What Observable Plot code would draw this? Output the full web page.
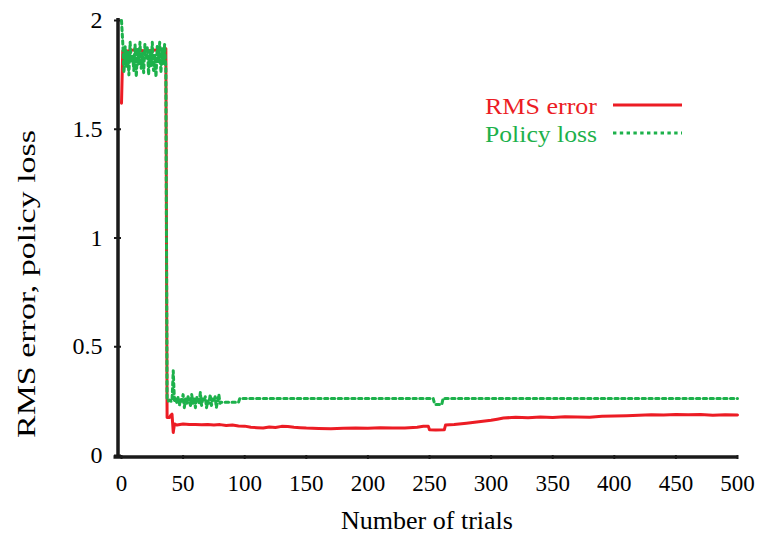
<!DOCTYPE html>
<html><head><meta charset="utf-8">
<script src="https://cdn.jsdelivr.net/npm/d3@7"></script>
<script src="https://cdn.jsdelivr.net/npm/@observablehq/plot@0.6"></script>
<style>body{margin:0;background:#fff;}</style>
</head><body><div id="chart"></div>
<script>
const seriesNames = ["RMS error", "Policy loss"];
const xLabel = "Number of trials";
const yLabel = "RMS error, policy loss";
const xTicks = [0, 50, 100, 150, 200, 250, 300, 350, 400, 450, 500];
const yTicks = [0, 0.5, 1, 1.5, 2];
const yTickLabels = ["0", "0.5", "1", "1.5", "2"];

const rmsTrials = [0, 1, 5, 10, 20, 30, 36, 37, 39, 40, 41, 42, 43, 45, 50, 55, 60, 65, 70, 75, 80, 85, 90, 95, 100, 105, 110, 115, 120, 125, 130, 135, 140, 145, 150, 160, 170, 180, 190, 200, 210, 220, 230, 240, 245, 249, 250, 255, 262, 263, 270, 280, 290, 300, 305, 310, 320, 330, 340, 350, 360, 370, 380, 390, 400, 410, 420, 430, 440, 450, 460, 470, 480, 490, 500];
const rmsValues = [1.62, 1.86, 1.86, 1.865, 1.86, 1.865, 1.87, 0.175, 0.175, 0.185, 0.19, 0.106, 0.145, 0.14, 0.145, 0.142, 0.143, 0.141, 0.142, 0.14, 0.142, 0.138, 0.14, 0.136, 0.135, 0.13, 0.128, 0.126, 0.131, 0.129, 0.134, 0.133, 0.13, 0.128, 0.126, 0.124, 0.123, 0.125, 0.127, 0.125, 0.128, 0.126, 0.127, 0.13, 0.134, 0.135, 0.118, 0.117, 0.118, 0.14, 0.142, 0.148, 0.155, 0.162, 0.167, 0.172, 0.176, 0.174, 0.177, 0.175, 0.178, 0.177, 0.176, 0.18, 0.182, 0.183, 0.185, 0.187, 0.186, 0.188, 0.187, 0.189, 0.185, 0.187, 0.186];

const policyTrials = [0, 1, 2, 3, 4, 5, 6, 7, 8, 9, 10, 11, 12, 13, 14, 15, 16, 17, 18, 19, 20, 21, 22, 23, 24, 25, 26, 27, 28, 29, 30, 31, 32, 33, 34, 35, 36, 37, 38, 39, 40, 41, 42, 43, 44, 45, 46, 47, 48, 49, 50, 51, 52, 53, 54, 55, 56, 57, 58, 59, 60, 61, 62, 63, 64, 65, 66, 67, 68, 69, 70, 71, 72, 73, 74, 75, 76, 77, 78, 79, 80, 81, 95, 96, 253, 254, 255, 260, 261, 500];
const policyValues = [2.0, 1.9, 1.76, 1.88, 1.79, 1.86, 1.75, 1.9, 1.81, 1.84, 1.77, 1.89, 1.74, 1.87, 1.8, 1.9, 1.78, 1.85, 1.76, 1.89, 1.82, 1.88, 1.75, 1.86, 1.79, 1.9, 1.77, 1.84, 1.74, 1.88, 1.81, 1.9, 1.76, 1.87, 1.8, 1.89, 1.78, 0.26, 0.25, 0.255, 0.25, 0.25, 0.39, 0.25, 0.26, 0.24, 0.27, 0.23, 0.26, 0.25, 0.28, 0.22, 0.26, 0.24, 0.27, 0.25, 0.23, 0.28, 0.24, 0.26, 0.22, 0.27, 0.25, 0.24, 0.29, 0.23, 0.26, 0.25, 0.27, 0.22, 0.25, 0.24, 0.28, 0.23, 0.26, 0.25, 0.27, 0.22, 0.25, 0.28, 0.24, 0.245, 0.245, 0.262, 0.262, 0.24, 0.235, 0.235, 0.262, 0.262];

const RED = "#ec1c24", GREEN = "#1db14b", DASH = "3.4,3.4";
const rms = rmsTrials.map((t, i) => ({trial: t, value: rmsValues[i]}));
const policy = policyTrials.map((t, i) => ({trial: t, value: policyValues[i]}));
const FONT = "'Liberation Serif', 'Times New Roman', serif";

const chart = Plot.plot({
  width: 762, height: 535,
  marginLeft: 121, marginRight: 25, marginTop: 20, marginBottom: 80,
  style: {fontFamily: FONT, fontSize: "23px", background: "#fff", color: "#000", overflow: "visible"},
  x: {domain: [0, 500]},
  y: {domain: [0, 2]},
  marks: [
    Plot.axisX(xTicks, {tickSize: 4, tickPadding: 15, label: null, stroke: "#1a1a1a", strokeWidth: 2,
      fontSize: 23, fontFamily: FONT}),
    Plot.axisY(yTicks, {tickSize: 7, tickPadding: 12, label: null, stroke: "#1a1a1a", strokeWidth: 2,
      fontSize: 24, fontFamily: FONT, tickFormat: d => yTickLabels[yTicks.indexOf(d)]}),
    Plot.line(rms, {x: "trial", y: "value", stroke: RED, strokeWidth: 3}),
    Plot.line(policy, {x: "trial", y: "value", stroke: GREEN, strokeWidth: 3, strokeDasharray: DASH}),
    Plot.ruleX([0], {stroke: "#1a1a1a", strokeWidth: 3.5, dx: -3.5, insetTop: -2, insetBottom: -3}),
    Plot.ruleY([0], {stroke: "#1a1a1a", strokeWidth: 3.5, dy: 1.5, insetLeft: -7.5})
  ]
});
document.getElementById("chart").appendChild(chart);

const svg = d3.select(chart);
svg.append("text").attr("x", 427).attr("y", 529).attr("text-anchor", "middle")
  .attr("font-family", FONT).attr("font-size", 26).attr("fill", "#000").text(xLabel);
svg.append("text").attr("transform", "translate(35,284) rotate(-90)").attr("text-anchor", "middle")
  .attr("font-family", FONT).attr("font-size", 26).attr("fill", "#000")
  .attr("textLength", 308).attr("lengthAdjust", "spacingAndGlyphs").text(yLabel);

const legend = [
  {name: seriesNames[0], color: RED, dash: null, ty: 114, ly: 105},
  {name: seriesNames[1], color: GREEN, dash: DASH, ty: 142, ly: 133}
];
const lg = svg.append("g");
legend.forEach(l => {
  lg.append("text").attr("x", 597).attr("y", l.ty).attr("text-anchor", "end")
    .attr("font-family", FONT).attr("font-size", 24).attr("fill", l.color)
    .attr("textLength", 112).attr("lengthAdjust", "spacingAndGlyphs").text(l.name);
  lg.append("line").attr("x1", 613).attr("x2", 682).attr("y1", l.ly).attr("y2", l.ly)
    .attr("stroke", l.color).attr("stroke-width", 3).attr("stroke-dasharray", l.dash);
});
</script>
</body></html>
